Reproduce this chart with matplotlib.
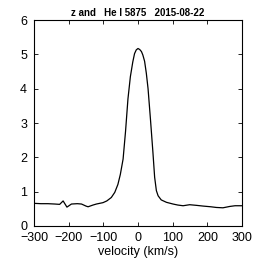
import matplotlib
matplotlib.use("Agg")
import matplotlib.pyplot as plt

plt.rcParams['font.family'] = ['Liberation Sans', 'DejaVu Sans']

# He I 5875 line profile
velocity = [-300, -280, -260, -240, -226, -216, -205, -192, -175, -163, -150, -144,
            -130, -120, -101, -90, -77, -67, -58, -51, -43, -36, -29, -22, -15, -10, -5,
            0, 5, 10, 14, 19, 24, 29, 36, 43, 48, 53, 58, 67, 82, 101, 115, 130, 149,
            170, 188, 210, 226, 245, 265, 280, 300]
flux = [0.66, 0.65, 0.65, 0.64, 0.63, 0.73, 0.55, 0.64, 0.65, 0.64, 0.58, 0.56,
        0.61, 0.64, 0.68, 0.73, 0.83, 0.98, 1.21, 1.5, 1.95, 2.75, 3.7, 4.35, 4.78, 5.02, 5.13,
        5.17, 5.14, 5.08, 4.98, 4.8, 4.45, 4.0, 3.1, 2.15, 1.42, 1.03, 0.88, 0.76, 0.69, 0.64, 0.61, 0.59, 0.62,
        0.6, 0.58, 0.56, 0.54, 0.53, 0.57, 0.59, 0.59]

fig = plt.figure(figsize=(2.67, 2.67), dpi=100)
ax = fig.add_axes([34 / 267, 41 / 267, 208 / 267, 206 / 267])
ax.plot(velocity, flux, color="black", linewidth=0.9)

ax.set_xlim(-300, 300)
ax.set_ylim(0, 6)
ax.set_xticks([-300, -200, -100, 0, 100, 200, 300])
ax.set_yticks([0, 1, 2, 3, 4, 5, 6])
ax.tick_params(direction="in", top=True, right=True, length=3, width=0.6,
               labelsize=9)
ax.tick_params(axis="x", pad=4.5)
ax.tick_params(axis="y", pad=5)
for s in ax.spines.values():
    s.set_linewidth(0.8)
ax.set_xlabel("velocity (km/s)", fontsize=9, labelpad=1)
ax.set_title("z and   He I 5875   2015-08-22", fontsize=7, fontweight="bold", pad=3)

fig.savefig("out.png", dpi=100)
